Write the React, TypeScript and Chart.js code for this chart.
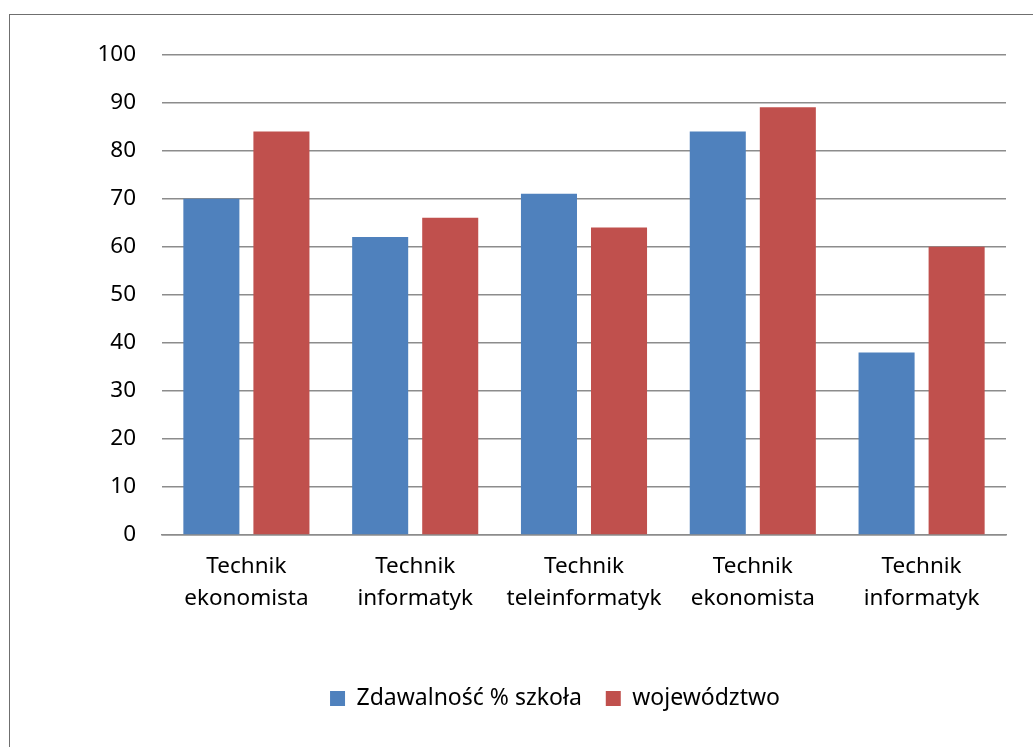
import React, { useEffect, useRef } from "react";
import { Chart, registerables } from "chart.js";

Chart.register(...registerables);

const categories: string[][] = [
  ["Technik", "ekonomista"],
  ["Technik", "informatyk"],
  ["Technik", "teleinformatyk"],
  ["Technik", "ekonomista"],
  ["Technik", "informatyk"],
];
const seriesNames = ["Zdawalność % szkoła", "województwo"];
const schoolValues = [70, 62, 71, 84, 38];
const regionValues = [84, 66, 64, 89, 60];
const yTicks = { min: 0, max: 100, step: 10 };

const FONT = "'Noto Sans', 'Open Sans', sans-serif";
const GRID = "#8c8c8c";

const legendFullWidth = {
  id: "legendFullWidth",
  afterLayout(chart: any) {
    const l = chart.legend;
    if (l) {
      l.left = 0;
      l.right = chart.width;
      l.width = chart.width;
    }
  },
};

export default function App() {
  const ref = useRef<HTMLCanvasElement | null>(null);
  useEffect(() => {
    if (!ref.current) return;
    const chart = new Chart(ref.current, {
      type: "bar",
      data: {
        labels: categories,
        datasets: [
          {
            label: seriesNames[0],
            data: schoolValues,
            backgroundColor: "#4F81BD",
            categoryPercentage: 0.83,
            barPercentage: 0.8,
          },
          {
            label: seriesNames[1],
            data: regionValues,
            backgroundColor: "#C0504D",
            categoryPercentage: 0.83,
            barPercentage: 0.8,
          },
        ],
      },
      plugins: [legendFullWidth],
      options: {
        animation: false,
        responsive: false,
        maintainAspectRatio: false,
        layout: { padding: { top: 38, right: 94, bottom: 27, left: 0 } },
        plugins: {
          tooltip: { enabled: false },
          legend: {
            position: "bottom",
            labels: {
              boxWidth: 15,
              boxHeight: 15,
              padding: 24,
              color: "#000",
              font: { family: FONT, size: 23 },
            },
          },
        },
        scales: {
          x: {
            grid: { display: false, drawTicks: false },
            border: { display: true, color: GRID, width: 1.5 },
            ticks: {
              color: "#000",
              padding: 16,
              font: { family: FONT, size: 22.5, lineHeight: 1.4 },
              maxRotation: 0,
              autoSkip: false,
            },
            afterFit: (s: any) => {
              s.height = 128;
            },
          },
          y: {
            min: yTicks.min,
            max: yTicks.max,
            grid: { color: GRID, lineWidth: 1.5, drawTicks: false },
            border: { display: false },
            ticks: {
              stepSize: yTicks.step,
              color: "#000",
              padding: 26,
              font: { family: FONT, size: 22.5 },
            },
            afterFit: (s: any) => {
              s.width = 152;
            },
          },
        },
      },
    });
    return () => chart.destroy();
  }, []);
  return (
    <div
      style={{
        position: "absolute",
        left: 9,
        top: 14,
        width: 1024,
        height: 733,
        boxSizing: "border-box",
        borderLeft: "1px solid #6f6f6f",
        borderTop: "1px solid #6f6f6f",
        background: "#fff",
        overflow: "hidden",
      }}
    >
      <canvas ref={ref} width={1090} height={732} style={{ display: "block" }} />
    </div>
  );
}
